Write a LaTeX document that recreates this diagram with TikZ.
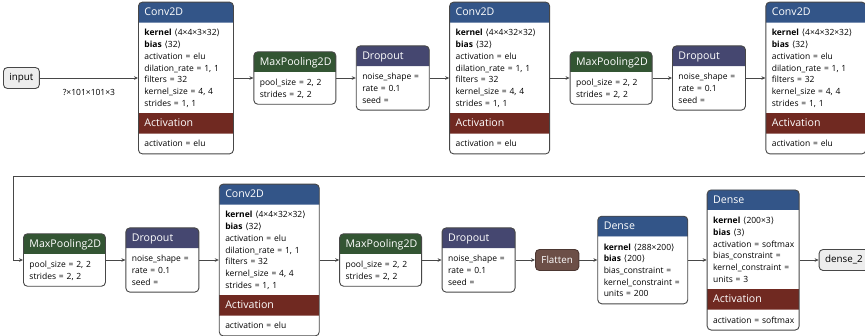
\documentclass[tikz,border=0pt]{standalone}
\usepackage{fontspec}
\setmainfont{Open Sans}
\newfontfamily\symfont{DejaVu Sans}
\usepackage{tikz}
\usetikzlibrary{
	arrows.meta,
	positioning,
	shapes.multipart
}
\definecolor{layerc}{HTML}{335588}
\definecolor{actc}{HTML}{702921}
\definecolor{poolc}{HTML}{335533}
\definecolor{dropc}{HTML}{454770}
\definecolor{shapec}{HTML}{6C4F47}
\definecolor{linec}{HTML}{474747}
% header line of a part, and the attribute lines below it
\newcommand{\ttl}[1]{{\fontsize{10.6}{12}\selectfont\color{white}\rule[-6.5pt]{0pt}{19.5pt}#1}}
\newcommand{\att}[1]{\rule{0pt}{13pt}#1\rule[-6.5pt]{0pt}{6.5pt}}
\newcommand{\shp}[1]{{\symfont ⟨}#1{\symfont ⟩}}
\tikzset{
	flow/.style={
		draw=linec,line width=0.8pt,
		-{Stealth[length=4pt,width=3.6pt]}
	},
	every edge/.append style={
		flow
	},
	box/.style={
		draw=linec,line width=0.9pt,rounded corners=4pt,
		rectangle split,rectangle split draw splits=false,
		inner xsep=6pt,inner ysep=0pt,
		align=left,font=\fontsize{8.5}{11.7}\selectfont,
		anchor=west
	},
	conv/.style={
		box,rectangle split parts=4,
		rectangle split part fill={layerc,white,actc,white},
		text width=88pt
	},
	pool/.style={
		box,rectangle split parts=2,
		rectangle split part fill={poolc,white},
		text width=70pt
	},
	drop/.style={
		box,rectangle split parts=2,
		rectangle split part fill={dropc,white},
		text width=61pt
	},
	io/.style={
		draw=linec,line width=0.9pt,rounded corners=4pt,
		fill=black!7,minimum height=21pt,inner xsep=6pt,
		font=\fontsize{9.8}{12}\selectfont,anchor=west
	},
	flat/.style={
		io,draw=shapec!70!black,fill=shapec,text=white
	}
}
\begin{document}
\begin{tikzpicture}[x=1pt,y=-1pt,node distance=19.5pt]
	\useasboundingbox (0,0) rectangle (865,335);
	\clip (0,0) rectangle (865,335);
	\draw
		node [io]                   (in)  at (3,78)   {input}
		node [conv,text width=83pt] (c1)  at (138,78) {\ttl{Conv2D}
			\nodepart{two}\att{\textbf{kernel} \shp{4×4×3×32}\\\textbf{bias} \shp{32}\\activation = elu\\dilation\_rate = 1, 1\\filters = 32\\kernel\_size = 4, 4\\strides = 1, 1}
			\nodepart{three}\ttl{Activation}
			\nodepart{four}\att{activation = elu}}
		node [pool,right=of c1]     (p1)  {\ttl{MaxPooling2D}
			\nodepart{two}\att{pool\_size = 2, 2\\strides = 2, 2}}
		node [drop,right=of p1]     (d1)  {\ttl{Dropout}
			\nodepart{two}\att{noise\_shape =\\rate = 0.1\\seed =}}
		node [conv,right=of d1]     (c2)  {\ttl{Conv2D}
			\nodepart{two}\att{\textbf{kernel} \shp{4×4×32×32}\\\textbf{bias} \shp{32}\\activation = elu\\dilation\_rate = 1, 1\\filters = 32\\kernel\_size = 4, 4\\strides = 1, 1}
			\nodepart{three}\ttl{Activation}
			\nodepart{four}\att{activation = elu}}
		node [pool,right=of c2]     (p2)  {\ttl{MaxPooling2D}
			\nodepart{two}\att{pool\_size = 2, 2\\strides = 2, 2}}
		node [drop,right=of p2]     (d2)  {\ttl{Dropout}
			\nodepart{two}\att{noise\_shape =\\rate = 0.1\\seed =}}
		node [conv,right=of d2]     (c3)  {\ttl{Conv2D}
			\nodepart{two}\att{\textbf{kernel} \shp{4×4×32×32}\\\textbf{bias} \shp{32}\\activation = elu\\dilation\_rate = 1, 1\\filters = 32\\kernel\_size = 4, 4\\strides = 1, 1}
			\nodepart{three}\ttl{Activation}
			\nodepart{four}\att{activation = elu}}

		node [pool]                 (p3)  at (23,260) {\ttl{MaxPooling2D}
			\nodepart{two}\att{pool\_size = 2, 2\\strides = 2, 2}}
		node [drop,right=of p3]     (d3)  {\ttl{Dropout}
			\nodepart{two}\att{noise\_shape =\\rate = 0.1\\seed =}}
		node [conv,right=of d3]     (c4)  {\ttl{Conv2D}
			\nodepart{two}\att{\textbf{kernel} \shp{4×4×32×32}\\\textbf{bias} \shp{32}\\activation = elu\\dilation\_rate = 1, 1\\filters = 32\\kernel\_size = 4, 4\\strides = 1, 1}
			\nodepart{three}\ttl{Activation}
			\nodepart{four}\att{activation = elu}}
		node [pool,right=of c4]     (p4)  {\ttl{MaxPooling2D}
			\nodepart{two}\att{pool\_size = 2, 2\\strides = 2, 2}}
		node [drop,right=of p4]     (d4)  {\ttl{Dropout}
			\nodepart{two}\att{noise\_shape =\\rate = 0.1\\seed =}}
		node [flat,right=of d4]     (fl)  {Flatten}
		node [box,rectangle split parts=2,rectangle split part fill={layerc,white},
			text width=78pt,right=18pt of fl] (e1) {\ttl{Dense}
			\nodepart{two}\att{\textbf{kernel} \shp{288×200}\\\textbf{bias} \shp{200}\\bias\_constraint =\\kernel\_constraint =\\units = 200}}
		node [conv,text width=80pt,right=18.5pt of e1] (e2) {\ttl{Dense}
			\nodepart{two}\att{\textbf{kernel} \shp{200×3}\\\textbf{bias} \shp{3}\\\mbox{activation = softmax}\\bias\_constraint =\\kernel\_constraint =\\units = 3}
			\nodepart{three}\ttl{Activation}
			\nodepart{four}\att{\mbox{activation = softmax}}}
		node [io,right=19pt of e2]  (out) {dense\_2}

		(in.east) edge node [below=8pt,font=\fontsize{8.5}{11}\selectfont] {?×101×101×3} (c1.west)
		(c1.east) edge (p1.west)
		(p1.east) edge (d1.west)
		(d1.east) edge (c2.west)
		(c2.east) edge (p2.west)
		(p2.east) edge (d2.west)
		(d2.east) edge (c3.west)
		(p3.east) edge (d3.west)
		(d3.east) edge (c4.west)
		(c4.east) edge (p4.west)
		(p4.east) edge (d4.west)
		(d4.east) edge (fl.west)
		(fl.east) edge (e1.west)
		(e1.east) edge (e2.west)
		(e2.east) edge (out.west)
	;
	% the wrap from the first row to the second
	\coordinate (r) at (880,176);
	\coordinate (l) at (13,176);
	\draw [flow] (c3.east) -| (r) -- (l) |- (p3.west);
\end{tikzpicture}
\end{document}
